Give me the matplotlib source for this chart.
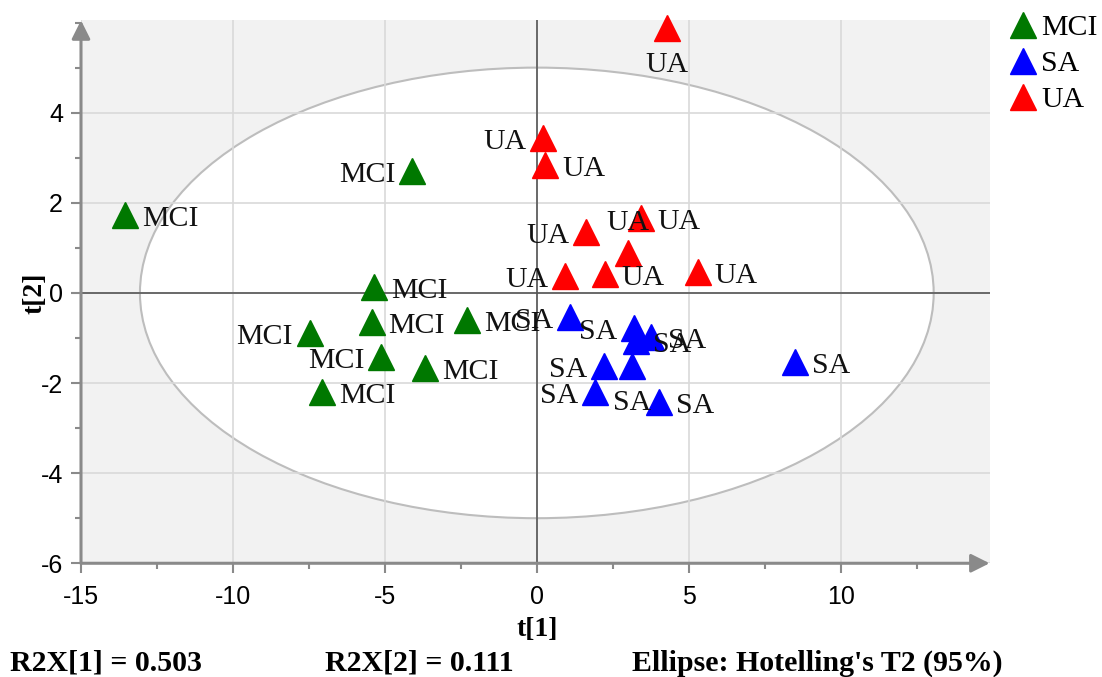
import matplotlib
matplotlib.use("Agg")
import matplotlib.pyplot as plt
from matplotlib.patches import Ellipse
from matplotlib.ticker import MultipleLocator

# PCA score values (t[1], t[2])
mci_t1 = [-13.54, -4.10, -5.35, -5.44, -2.29, -7.48, -5.12, -3.67, -7.06]
mci_t2 = [1.73, 2.71, 0.13, -0.64, -0.60, -0.89, -1.42, -1.67, -2.20]
sa_t1 = [1.10, 3.21, 3.27, 3.77, 2.22, 3.14, 1.92, 4.03, 8.50]
sa_t2 = [-0.53, -0.78, -1.07, -0.98, -1.62, -1.62, -2.20, -2.42, -1.53]
ua_t1 = [4.29, 0.21, 0.28, 1.62, 3.43, 2.99, 0.94, 2.25, 5.29]
ua_t2 = [5.89, 3.44, 2.84, 1.36, 1.66, 0.88, 0.38, 0.42, 0.47]

# label side for each point: r=right, l=left, a=above, b=below
mci_side = ['r', 'l', 'r', 'r', 'r', 'l', 'l', 'r', 'r']
sa_side = ['l', 'l', 'r', 'r', 'l', 'b', 'l', 'r', 'r']
ua_side = ['b', 'l', 'r', 'l', 'r', 'a', 'l', 'r', 'r']

groups = ['MCI', 'SA', 'UA']
colors = {'MCI': '#007800', 'SA': '#0000ff', 'UA': '#ff0000'}

# ellipse semi-axes (Hotelling's T2 95%)
ell_a, ell_b = 13.06, 5.0

serif = 'Liberation Serif'
sans = 'Liberation Sans'
gray = '#8a8a8a'

fig = plt.figure(figsize=(11.02, 6.77), dpi=100)
ax = fig.add_axes([0.0735, 0.168, 0.8245, 0.802])
ax.set_facecolor('#f2f2f2')
ax.set_xlim(-15, 14.9)
ax.set_ylim(-6, 6.05)

ax.add_patch(Ellipse((0, 0), 2 * ell_a, 2 * ell_b, facecolor='white',
                     edgecolor='#bdbdbd', lw=1.5, zorder=1))

ax.xaxis.set_major_locator(MultipleLocator(5))
ax.xaxis.set_minor_locator(MultipleLocator(2.5))
ax.yaxis.set_major_locator(MultipleLocator(2))
ax.yaxis.set_minor_locator(MultipleLocator(1))
ax.set_axisbelow(False)
ax.grid(True, which='major', color='#d9d9d9', lw=1.2)
ax.axhline(0, color='#555555', lw=1.2, zorder=2.6)
ax.axvline(0, color='#555555', lw=1.2, zorder=2.6)

for s in ax.spines.values():
    s.set_visible(False)
ax.annotate('', xy=(1, 0), xytext=(0, 0), xycoords='axes fraction',
            arrowprops=dict(arrowstyle='-|>', color=gray, lw=2.2,
                            mutation_scale=28, shrinkA=0, shrinkB=0))
ax.annotate('', xy=(0, 1), xytext=(0, 0), xycoords='axes fraction',
            arrowprops=dict(arrowstyle='-|>', color=gray, lw=2.2,
                            mutation_scale=28, shrinkA=0, shrinkB=0))

ax.tick_params(which='major', direction='out', length=7, width=1.5, color=gray,
               labelsize=18)
ax.tick_params(axis='x', which='major', pad=9)
ax.tick_params(axis='y', which='major', pad=6)
ax.tick_params(which='minor', direction='out', length=4, width=1.5, color=gray)
xt = [-15, -10, -5, 0, 5, 10]
yt = [-6, -4, -2, 0, 2, 4]
ax.set_xticks(xt)
ax.set_yticks(yt)
ax.set_xticklabels([str(v) for v in xt], family=sans)
ax.set_yticklabels([str(v) for v in yt], family=sans)

offs = {'r': ((12, -3), 'left', 'center'),
        'l': ((-12, -3), 'right', 'center'),
        'a': ((0, 22), 'center', 'center'),
        'b': ((0, -27), 'center', 'center')}

data = {'MCI': (mci_t1, mci_t2, mci_side),
        'SA': (sa_t1, sa_t2, sa_side),
        'UA': (ua_t1, ua_t2, ua_side)}

for g in groups:
    xs, ys, sides = data[g]
    ax.plot(xs, ys, '^', color=colors[g], ms=19, mec=colors[g], ls='none',
            label=g, zorder=4, clip_on=False)
    for x, y, sd in zip(xs, ys, sides):
        off, ha, va = offs[sd]
        ax.annotate(g, (x, y), xytext=off, textcoords='offset points',
                    ha=ha, va=va, fontsize=21.5, family=serif, color='#111111',
                    zorder=5, annotation_clip=False)

leg = fig.legend(loc='upper left', bbox_to_anchor=(0.9, 1.005), frameon=False,
                 prop={'family': serif, 'size': 21.5}, handlelength=0.9,
                 handletextpad=0.15, labelspacing=0.3, borderaxespad=0.2)

fig.text(537 / 1102, 1 - 630 / 677, 't[1]', ha='center', va='center',
         fontsize=20, fontweight='bold', family=serif)
fig.text(35 / 1102, 1 - 293 / 677, 't[2]', ha='center', va='center',
         rotation=90, fontsize=20, fontweight='bold', family=serif)

fig.text(10 / 1102, 1 - 663 / 677, 'R2X[1] = 0.503', ha='left', va='center',
         fontsize=21.5, fontweight='bold', family=serif)
fig.text(325 / 1102, 1 - 663 / 677, 'R2X[2] = 0.111', ha='left', va='center',
         fontsize=21.5, fontweight='bold', family=serif)
fig.text(632 / 1102, 1 - 663 / 677, "Ellipse: Hotelling's T2 (95%)", ha='left',
         va='center', fontsize=21.5, fontweight='bold', family=serif)

fig.savefig('out.png', dpi=100)
